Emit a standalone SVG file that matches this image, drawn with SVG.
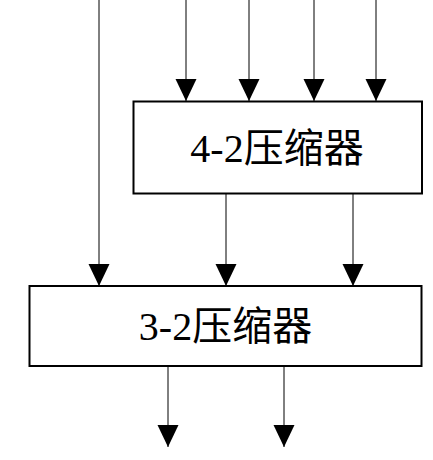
<svg xmlns="http://www.w3.org/2000/svg" width="433" height="460" viewBox="0 0 433 460">
<style>
.box{fill:#fff;stroke:#000;stroke-width:2}
.lbl{font-family:"Liberation Serif","Noto Sans CJK SC",serif;font-size:40px;fill:#000;text-anchor:middle}
.wire{stroke:#000;stroke-width:1;fill:none;marker-end:url(#ah)}
</style>
<defs>
<marker id="ah" markerUnits="userSpaceOnUse" markerWidth="23" markerHeight="22" refX="22" refY="10.5" orient="auto" viewBox="0 0 23 22">
<path d="M0,0 L22,10.5 L0,21 Z" fill="#000"/>
</marker>
</defs>
<g id="connectors">
<line class="wire" x1="99" y1="0" x2="99" y2="286"/>
<line class="wire" x1="186" y1="0" x2="186" y2="101"/>
<line class="wire" x1="249" y1="0" x2="249" y2="101"/>
<line class="wire" x1="314" y1="0" x2="314" y2="101"/>
<line class="wire" x1="376" y1="0" x2="376" y2="101"/>
<line class="wire" x1="226" y1="194" x2="226" y2="286"/>
<line class="wire" x1="353" y1="194" x2="353" y2="286"/>
<line class="wire" x1="168" y1="367" x2="168" y2="447"/>
<line class="wire" x1="284" y1="367" x2="284" y2="447"/>
</g>
<g id="compressor42">
<rect class="box" x="133.5" y="101.5" width="288.5" height="92"/>
<text class="lbl" x="277" y="162">4-2压缩器</text>
</g>
<g id="compressor32">
<rect class="box" x="29.5" y="286" width="392" height="80"/>
<text class="lbl" x="225.5" y="340">3-2压缩器</text>
</g>
</svg>
